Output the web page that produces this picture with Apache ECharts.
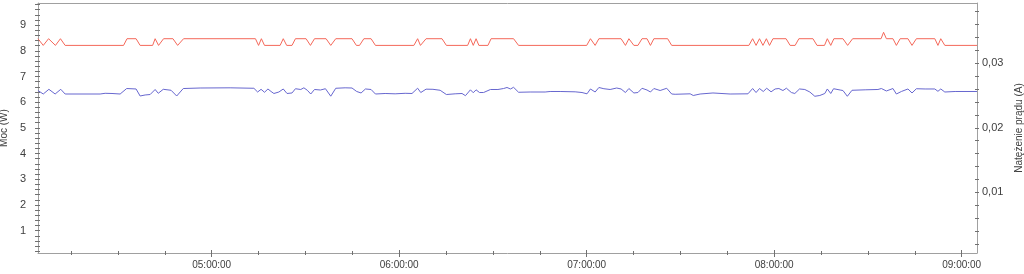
<!DOCTYPE html>
<html>
<head>
<meta charset="utf-8">
<script src="https://cdn.jsdelivr.net/npm/echarts@6/dist/echarts.min.js"></script>
<style>
html,body{margin:0;padding:0;background:#fff;}
#chart{width:1024px;height:274px;}
</style>
</head>
<body>
<div id="chart"></div>
<script>
// Time is stored as minutes after 04:00:00
const xRange = [4.42, 304.9];
const hourTicks = [60, 120, 180, 240, 300];
const quarterTicks = [15, 30, 45, 75, 90, 105, 135, 150, 165, 195, 210, 225, 255, 270, 285];

const leftRange = [0.13, 9.86];
const leftLabels = [1, 2, 3, 4, 5, 6, 7, 8, 9];
const leftTickStep = 0.2;

const rightRange = [0.00059, 0.03935];
const rightLabels = [0.01, 0.02, 0.03];
const rightTickStep = 0.002;

// Moc (W) - red
const redMinutes = [
  4.4, 6.1, 7.8, 8.3, 10.0, 11.6, 13.1, 31.8, 32.9, 35.8,
  37.1, 41.1, 41.9, 43.0, 44.6, 47.6, 49.1, 51.0, 74.0, 75.0,
  75.9, 76.9, 81.9, 82.9, 84.0, 85.7, 86.8, 90.2, 91.6, 92.9,
  96.6, 98.1, 99.7, 104.9, 106.3, 107.3, 108.7, 111.0, 112.4, 124.7,
  125.9, 126.8, 128.6, 133.7, 135.1, 141.9, 142.8, 143.7, 144.6, 145.5,
  148.4, 149.4, 156.6, 158.2, 180.0, 181.2, 182.7, 183.9, 191.0, 192.4,
  193.5, 195.1, 196.4, 197.7, 199.3, 200.4, 201.5, 205.9, 207.2, 231.9,
  233.1, 234.2, 235.3, 236.4, 237.5, 238.5, 239.6, 243.8, 245.1, 246.7,
  247.9, 252.4, 253.7, 256.1, 257.0, 258.1, 259.1, 262.0, 263.5, 263.9,
  265.1, 274.2, 275.0, 275.9, 278.0, 279.1, 280.3, 282.8, 284.1, 285.5,
  291.4, 292.4, 293.3, 294.6, 304.9
];
const redWatts = [
  8.47, 8.21, 8.47, 8.47, 8.21, 8.47, 8.21, 8.21, 8.47, 8.47,
  8.21, 8.21, 8.47, 8.21, 8.47, 8.47, 8.21, 8.47, 8.47, 8.21,
  8.47, 8.21, 8.21, 8.47, 8.21, 8.21, 8.47, 8.47, 8.21, 8.47,
  8.47, 8.21, 8.47, 8.47, 8.21, 8.21, 8.47, 8.47, 8.21, 8.21,
  8.47, 8.21, 8.47, 8.47, 8.21, 8.21, 8.47, 8.21, 8.47, 8.21,
  8.21, 8.47, 8.47, 8.21, 8.21, 8.47, 8.21, 8.47, 8.47, 8.21,
  8.47, 8.21, 8.21, 8.47, 8.47, 8.21, 8.47, 8.47, 8.21, 8.21,
  8.47, 8.21, 8.47, 8.21, 8.47, 8.21, 8.47, 8.47, 8.21, 8.21,
  8.47, 8.47, 8.21, 8.21, 8.47, 8.21, 8.47, 8.47, 8.21, 8.21,
  8.47, 8.47, 8.72, 8.47, 8.47, 8.21, 8.47, 8.47, 8.21, 8.47,
  8.47, 8.21, 8.47, 8.21, 8.21
];

// Natężenie prądu (A) - blue
const blueMinutes = [
  4.4, 6.1, 7.9, 9.9, 11.7, 13.1, 24.3, 25.9, 28.1, 30.7,
  32.8, 35.8, 37.1, 38.7, 40.3, 41.9, 42.9, 44.5, 47.0, 48.8,
  50.9, 56.3, 65.9, 73.5, 74.7, 75.8, 76.9, 78.0, 79.0, 79.9,
  81.5, 82.9, 84.1, 85.7, 86.8, 88.5, 89.5, 90.6, 91.7, 92.9,
  94.8, 96.4, 98.1, 99.7, 102.7, 104.9, 106.4, 107.8, 109.2, 111.0,
  112.4, 115.5, 118.7, 121.9, 124.1, 125.9, 126.9, 128.6, 130.8, 133.1,
  135.1, 137.9, 140.1, 141.2, 142.8, 143.7, 144.6, 145.7, 147.0, 149.2,
  151.6, 153.4, 154.5, 155.6, 156.6, 158.2, 161.9, 166.7, 168.3, 171.5,
  176.3, 178.5, 180.1, 181.2, 182.7, 183.9, 185.5, 187.5, 189.6, 191.0,
  192.4, 193.5, 195.1, 196.4, 197.7, 199.3, 200.4, 201.5, 203.5, 205.6,
  207.2, 208.3, 213.1, 214.1, 216.3, 220.4, 225.9, 231.6, 233.1, 234.2,
  235.3, 236.5, 237.6, 239.0, 240.3, 241.5, 242.8, 243.9, 245.5, 246.6,
  248.1, 249.8, 251.4, 253.0, 254.6, 256.2, 257.0, 258.1, 259.0, 261.1,
  262.0, 263.4, 264.9, 269.1, 273.2, 274.3, 275.9, 278.0, 279.1, 280.7,
  282.8, 284.1, 285.5, 288.3, 291.4, 292.4, 293.3, 294.6, 297.9, 304.9
];
const blueAmps = [
  0.02578, 0.02524, 0.02597, 0.02524, 0.02597, 0.02524, 0.02524, 0.02535, 0.02532, 0.02524,
  0.02609, 0.02602, 0.02493, 0.02509, 0.02516, 0.02594, 0.02535, 0.02597, 0.02582, 0.02493,
  0.02609, 0.02617, 0.02620, 0.02613, 0.02555, 0.02597, 0.02551, 0.02602, 0.02563, 0.02532,
  0.02555, 0.02602, 0.02532, 0.02540, 0.02606, 0.02594, 0.02620, 0.02582, 0.02524, 0.02594,
  0.02586, 0.02606, 0.02490, 0.02613, 0.02620, 0.02617, 0.02563, 0.02540, 0.02602, 0.02594,
  0.02524, 0.02532, 0.02527, 0.02535, 0.02532, 0.02614, 0.02547, 0.02599, 0.02597, 0.02582,
  0.02516, 0.02527, 0.02532, 0.02498, 0.02589, 0.02544, 0.02589, 0.02547, 0.02547, 0.02594,
  0.02594, 0.02609, 0.02625, 0.02602, 0.02628, 0.02551, 0.02555, 0.02555, 0.02563, 0.02563,
  0.02558, 0.02547, 0.02527, 0.02602, 0.02555, 0.02625, 0.02606, 0.02594, 0.02617, 0.02602,
  0.02547, 0.02609, 0.02540, 0.02547, 0.02613, 0.02586, 0.02555, 0.02609, 0.02578, 0.02613,
  0.02524, 0.02520, 0.02527, 0.02501, 0.02524, 0.02540, 0.02524, 0.02527, 0.02609, 0.02547,
  0.02609, 0.02563, 0.02613, 0.02558, 0.02602, 0.02609, 0.02578, 0.02614, 0.02547, 0.02532,
  0.02602, 0.02594, 0.02555, 0.02489, 0.02501, 0.02532, 0.02602, 0.02532, 0.02606, 0.02586,
  0.02578, 0.02489, 0.02582, 0.02589, 0.02594, 0.02609, 0.02571, 0.02609, 0.02524, 0.02563,
  0.02602, 0.02540, 0.02606, 0.02602, 0.02602, 0.02566, 0.02602, 0.02555, 0.02563, 0.02563
];

function stepTicks(range, step) {
  const out = [];
  const n0 = Math.ceil(range[0] / step - 1e-9);
  const n1 = Math.floor(range[1] / step + 1e-9);
  for (let n = n0; n <= n1; n++) { if (n > 0) out.push(+(n * step).toFixed(6)); }
  return out;
}
const leftTicks = stepTicks(leftRange, leftTickStep);
const rightTicks = stepTicks(rightRange, rightTickStep);

function pad(n) { return (n < 10 ? '0' : '') + n; }
function fmtTime(m) {
  const s = Math.round(4 * 3600 + m * 60);
  return pad(Math.floor(s / 3600)) + ':' + pad(Math.floor(s / 60) % 60) + ':' + pad(s % 60);
}

const FONT = 'Liberation Sans, Arial, sans-serif';
const LINE = '#a0a0a0';
const TICK = '#707070';
const TEXT = '#404040';

function xAx(opts) {
  return Object.assign({
    type: 'value', min: xRange[0], max: xRange[1], position: 'bottom',
    axisLine: { show: false }, axisLabel: { show: false }, splitLine: { show: false },
    axisTick: { show: false }
  }, opts);
}
function yAx(opts) {
  return Object.assign({
    type: 'value', splitLine: { show: false }, axisLabel: { show: false },
    axisLine: { show: false }, axisTick: { show: false }
  }, opts);
}

const chart = echarts.init(document.getElementById('chart'), null, { renderer: 'canvas' });
chart.setOption({
  animation: false,
  backgroundColor: '#ffffff',
  grid: { left: 38, right: 47, top: 3, bottom: 21, containLabel: false, outerBoundsMode: 'none' },
  xAxis: [
    xAx({
      axisLine: { show: true, lineStyle: { color: LINE, width: 1 } },
      axisTick: { show: true, customValues: hourTicks, length: 4, inside: false, lineStyle: { color: TICK } },
      axisLabel: { show: true, customValues: hourTicks, formatter: fmtTime, fontSize: 10, color: TEXT, fontFamily: FONT, margin: 7 }
    }),
    xAx({ axisTick: { show: true, customValues: hourTicks, length: 3, inside: true, lineStyle: { color: TICK } } }),
    xAx({ axisTick: { show: true, customValues: quarterTicks, length: 2, inside: false, lineStyle: { color: TICK } } }),
    xAx({ axisTick: { show: true, customValues: quarterTicks, length: 2, inside: true, lineStyle: { color: TICK } } }),
    xAx({ position: 'top', axisLine: { show: true, lineStyle: { color: LINE, width: 1 } } })
  ],
  yAxis: [
    yAx({
      min: leftRange[0], max: leftRange[1], position: 'left',
      name: 'Moc (W)', nameLocation: 'middle', nameRotate: 90, nameGap: 29,
      nameTextStyle: { fontSize: 10, color: TEXT, fontFamily: FONT },
      axisLine: { show: true, lineStyle: { color: LINE, width: 1 } },
      axisTick: { show: true, customValues: leftTicks, length: 3, inside: false, lineStyle: { color: TICK } },
      axisLabel: { show: true, customValues: leftLabels, fontSize: 11, color: TEXT, fontFamily: FONT, margin: 12 }
    }),
    yAx({
      min: leftRange[0], max: leftRange[1], position: 'left',
      axisTick: { show: true, customValues: leftTicks, length: 2, inside: true, lineStyle: { color: TICK } }
    }),
    yAx({
      min: rightRange[0], max: rightRange[1], position: 'right',
      name: 'Natężenie prądu (A)', nameLocation: 'middle', nameRotate: 90, nameGap: 37,
      nameTextStyle: { fontSize: 10, color: TEXT, fontFamily: FONT },
      axisLine: { show: true, lineStyle: { color: LINE, width: 1 } },
      axisTick: { show: true, customValues: rightTicks, length: 2, inside: false, lineStyle: { color: TICK } },
      axisLabel: {
        show: true, customValues: rightLabels, fontSize: 11, color: TEXT, fontFamily: FONT, margin: 5,
        formatter: v => v.toFixed(2).replace('.', ',')
      }
    }),
    yAx({
      min: rightRange[0], max: rightRange[1], position: 'right',
      axisTick: { show: true, customValues: rightTicks, length: 2, inside: true, lineStyle: { color: TICK } }
    })
  ],
  series: [
    {
      name: 'Moc (W)', type: 'line', xAxisIndex: 0, yAxisIndex: 0,
      data: redMinutes.map((m, i) => [m, redWatts[i]]),
      showSymbol: false, symbol: 'none',
      lineStyle: { color: '#f4685a', width: 1 }, itemStyle: { color: '#f4685a' }
    },
    {
      name: 'Natężenie prądu (A)', type: 'line', xAxisIndex: 0, yAxisIndex: 2,
      data: blueMinutes.map((m, i) => [m, blueAmps[i]]),
      showSymbol: false, symbol: 'none',
      lineStyle: { color: '#6767cf', width: 1 }, itemStyle: { color: '#6767cf' }
    }
  ]
});
</script>
</body>
</html>
